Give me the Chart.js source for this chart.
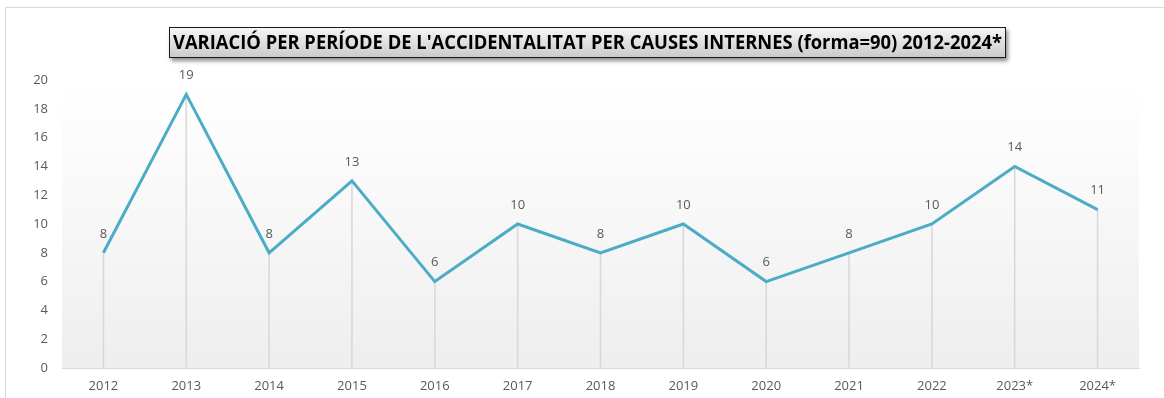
<!DOCTYPE html>
<html>
<head>
<meta charset="utf-8">
<script src="https://cdn.jsdelivr.net/npm/chart.js@4.4.1/dist/chart.umd.min.js"></script>
<style>
  body { margin: 0; background: #fff; }
  canvas { display: block; }
</style>
</head>
<body>
<canvas id="chart" width="1164" height="398"></canvas>
<script>
const years = ['2012', '2013', '2014', '2015', '2016', '2017', '2018', '2019', '2020', '2021', '2022', '2023*', '2024*'];
const accidents = [8, 19, 8, 13, 6, 10, 8, 10, 6, 8, 10, 14, 11];
const yTicks = [0, 2, 4, 6, 8, 10, 12, 14, 16, 18, 20];
const chartTitle = "VARIACIÓ PER PERÍODE DE L'ACCIDENTALITAT PER CAUSES INTERNES (forma=90) 2012-2024*";

const labelColor = '#595959';
const lineColor = '#4bacc6';
const tickFont = { family: "'Open Sans', sans-serif", size: 13 };

// frame, plot background and the boxed title
const backdrop = {
  id: 'backdrop',
  beforeDraw(chart) {
    const ctx = chart.ctx;
    const a = chart.chartArea;
    ctx.save();
    ctx.strokeStyle = '#d9d9d9';
    ctx.lineWidth = 1;
    ctx.beginPath();
    ctx.moveTo(5.5, 398);
    ctx.lineTo(5.5, 7.5);
    ctx.lineTo(1164, 7.5);
    ctx.stroke();

    const g = ctx.createLinearGradient(0, a.top, 0, a.bottom);
    g.addColorStop(0, '#ffffff');
    g.addColorStop(0.15, '#fdfdfd');
    g.addColorStop(1, '#eeeeee');
    ctx.fillStyle = g;
    ctx.fillRect(a.left, a.top, a.right - a.left, a.bottom - a.top);

    // title box
    const bx = 169, by = 27, bw = 837, bh = 31;
    ctx.save();
    ctx.shadowColor = 'rgba(0,0,0,0.45)';
    ctx.shadowBlur = 4;
    ctx.shadowOffsetX = 2;
    ctx.shadowOffsetY = 3;
    const tg = ctx.createLinearGradient(0, by, 0, by + bh);
    tg.addColorStop(0, '#f7f7f7');
    tg.addColorStop(1, '#c9c9c9');
    ctx.fillStyle = tg;
    ctx.fillRect(bx, by, bw, bh);
    ctx.restore();
    ctx.strokeStyle = '#1a1a1a';
    ctx.strokeRect(bx + 0.5, by + 0.5, bw - 1, bh - 1);

    ctx.font = "bold 20px 'Liberation Sans Narrow', 'Open Sans', sans-serif";
    ctx.fillStyle = '#000';
    ctx.textBaseline = 'middle';
    ctx.textAlign = 'left';
    const w = ctx.measureText(chartTitle).width;
    const target = 829;
    ctx.translate(bx + 4, by + bh / 2 + 1);
    ctx.scale(target / w, 1);
    ctx.fillText(chartTitle, 0, 0);
    ctx.restore();
  }
};

// value labels above each point
const valueLabels = {
  id: 'valueLabels',
  afterDatasetsDraw(chart) {
    const ctx = chart.ctx;
    const meta = chart.getDatasetMeta(1);
    ctx.save();
    ctx.font = "13px 'Open Sans', sans-serif";
    ctx.fillStyle = labelColor;
    ctx.textAlign = 'center';
    ctx.textBaseline = 'middle';
    meta.data.forEach((pt, i) => {
      ctx.fillText(String(accidents[i]), pt.x, pt.y - 19);
    });
    ctx.restore();
  }
};

new Chart(document.getElementById('chart'), {
  data: {
    labels: years,
    datasets: [
      {
        // drop lines from each point down to the axis
        type: 'bar',
        data: accidents,
        backgroundColor: '#d9d9d9',
        barThickness: 1,
        order: 2
      },
      {
        type: 'line',
        data: accidents,
        borderColor: lineColor,
        borderWidth: 3,
        pointRadius: 0,
        tension: 0,
        order: 1
      }
    ]
  },
  options: {
    responsive: false,
    animation: false,
    layout: { padding: { left: 0, right: 25, top: 80, bottom: 0 } },
    plugins: {
      legend: { display: false },
      tooltip: { enabled: false }
    },
    scales: {
      x: {
        offset: true,
        grid: { display: false, drawTicks: false },
        border: { display: true, color: '#d9d9d9', width: 1 },
        ticks: { color: labelColor, font: tickFont, padding: 10, maxRotation: 0 },
        afterFit(scale) { scale.height = 30; }
      },
      y: {
        min: 0,
        max: 20,
        afterBuildTicks(scale) { scale.ticks = yTicks.map(v => ({ value: v })); },
        grid: { display: false, drawTicks: false },
        border: { display: false },
        ticks: { color: labelColor, font: tickFont, padding: 14 },
        afterFit(scale) { scale.width = 62; }
      }
    }
  },
  plugins: [backdrop, valueLabels]
});
</script>
</body>
</html>
